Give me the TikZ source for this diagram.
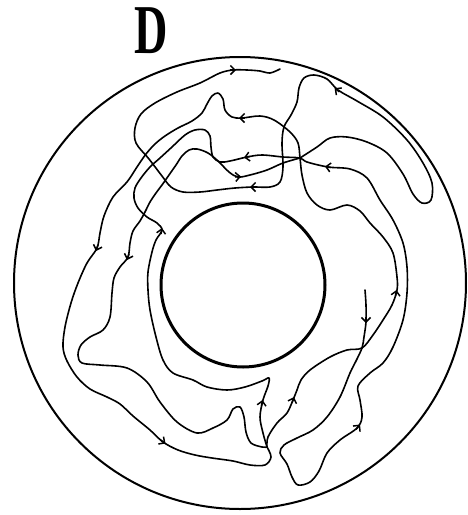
\documentclass[tikz,border=0pt]{standalone}
\usepackage{fontspec}
\usepackage{tikz}
\usetikzlibrary{arrows.meta}
\newfontfamily\letterfont{Liberation Serif}

\begin{document}
\begin{tikzpicture}[
    x=1pt, y=-1pt,
    ring/.style={line width=2pt},
    core/.style={line width=3pt},
    track/.style={line width=1.6pt, line join=round, line cap=round},
    barb/.style={-{Straight Barb[length=4.5pt, width=9pt]}, line width=1.5pt},
  ]
  \useasboundingbox (0,0) rectangle (467,515);

  % Panel letter
  \node[inner sep=0pt, font=\letterfont\fontsize{70}{70}\selectfont\bfseries] (panel) at (151,31) {\scalebox{0.66}[1]{D}};

  % Annulus
  \draw[ring] (240,283) circle (226);
  \draw[core] (243,285) circle (82);

  % Upper loop with the right lobe
  \draw[track] plot[smooth, tension=0.55] coordinates {
    (280,69) (270,73) (260,71) (247,70) (233,70) (220,73) (200,83) (177,92) (155,103)
    (141,114) (135,128) (136,143) (149,159) (162,176) (171,187) (183,192) (200,192)
    (217,190) (235,188) (253,187) (270,187) (280,182) (283,167) (282,143) (284,127)
    (291,115) (297,102) (299,88) (304,78) (314,75) (327,79) (338,90) (357,101) (383,117)
    (407,140) (423,163) (432,183) (431,200) (422,203) (413,194) (403,174) (387,153)
    (367,142) (347,137) (330,138) (317,147) (300,158)};

  % Track from the free end, round the lower right, over the top and down the inner left
  \draw[track] plot[smooth, tension=0.55] coordinates {
    (365,290) (366,305) (366,322) (364,337) (362,348) (356,361) (350,373) (340,397)
    (327,417) (313,430) (297,438) (284,445) (280,453) (287,464) (292,477) (298,485)
    (310,482) (319,471) (327,453) (340,440) (357,428) (362,417) (360,400) (358,386)
    (370,373) (383,363) (393,347) (403,320) (407,293) (407,267) (403,243) (393,220)
    (380,200) (367,178) (350,169) (328,167) (307,162) (300,158) (283,157) (262,155)
    (247,157) (230,161) (220,162) (213,157) (211,147) (210,136) (205,130) (195,130)
    (185,135) (172,147) (160,158) (150,167) (141,178) (135,188) (134,198) (138,208)
    (147,217) (157,223) (162,230) (156,240) (152,252) (148,272) (148,290) (150,310)
    (156,337) (163,360) (173,373) (193,380) (207,387) (227,390) (245,387) (262,381)
    (269,378) (268,386) (263,400) (260,417) (263,433) (267,447)};

  % Track through the tongue and round the outer left
  \draw[track] plot[smooth, tension=0.55] coordinates {
    (267,447) (268,437) (277,423) (287,413) (293,400) (297,390) (301,380) (310,370)
    (330,357) (347,350) (362,348) (373,335) (383,320) (392,305) (397,290) (397,277)
    (393,253) (383,237) (370,223) (360,211) (347,205) (330,210) (317,205) (307,193)
    (302,175) (300,158) (298,143) (290,132) (274,120) (260,116) (242,118) (232,117)
    (225,110) (223,99) (218,93) (212,96) (207,104) (202,113) (192,121) (178,128)
    (165,136) (155,144) (146,154) (137,167) (127,182) (113,197) (104,216) (100,233)
    (97,248) (87,263) (78,283) (71,303) (65,327) (63,347) (67,361) (77,377) (90,389)
    (107,397) (120,404) (133,416) (150,430) (163,442) (178,450) (195,455) (212,458)
    (233,461) (250,465) (265,465) (271,457) (267,447)};

  % Middle left track
  \draw[track] plot[smooth, tension=0.55] coordinates {
    (300,158) (283,163) (267,170) (250,175) (238,177) (229,172) (218,161) (208,153)
    (197,149) (189,150) (182,156) (176,165) (169,175) (162,185) (156,193) (150,202)
    (145,212) (140,221) (133,231) (130,243) (128,257) (120,267) (114,278) (112,293)
    (110,317) (103,330) (90,337) (81,345) (78,355) (82,363) (100,365) (127,368)
    (147,382) (160,402) (177,422) (197,433) (213,428) (227,420) (233,409) (240,407)
    (244,417) (246,432) (251,443) (262,447) (267,447)};

  % Direction marks
  \draw[barb] (230,70) -- (236,70);
  \draw[barb] (339.4,91.8) -- (334.6,88.2);
  \draw[barb] (245,118) -- (239,118);
  \draw[barb] (250,156.5) -- (244,157.5);
  \draw[barb] (235,177) -- (241,176.5);
  \draw[barb] (256,187) -- (250,187);
  \draw[barb] (331,167.5) -- (325,166.5);
  \draw[barb] (98,245) -- (96,251);
  \draw[barb] (129,254) -- (127,260);
  \draw[barb] (161,234) -- (162,228);
  \draw[barb] (366,317) -- (366,323);
  \draw[barb] (395.5,296) -- (396.5,290);
  \draw[barb] (292,403) -- (294,397);
  \draw[barb] (261.5,406) -- (262.5,400);
  \draw[barb] (356,429.5) -- (360,424.5);
  \draw[barb] (160.5,440) -- (165.5,443.5);
\end{tikzpicture}
\end{document}
